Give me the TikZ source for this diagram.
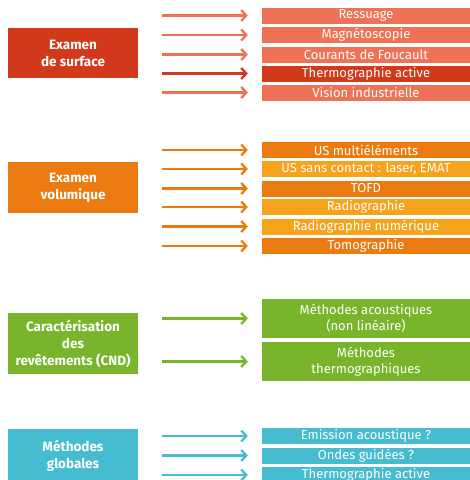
\documentclass[tikz,border=0pt]{standalone}
\usepackage{fontspec}
\setmainfont{Fira Sans}
\usetikzlibrary{arrows.meta}
\definecolor{surfdark}{HTML}{D2391A}
\definecolor{surflight}{HTML}{EE7255}
\definecolor{voldark}{HTML}{EB7B10}
\definecolor{vollight}{HTML}{F6A21B}
\definecolor{green}{HTML}{78B52A}
\definecolor{blue}{HTML}{45BCD0}
\begin{document}
\begin{tikzpicture}[x=1pt,y=-1pt,
  lbox/.style={inner sep=0pt, minimum width=130pt, text=white, align=center,
    font=\fontsize{13.5}{17}\selectfont\bfseries},
  rbox/.style={inner sep=0pt, minimum width=208pt, text=white, align=center,
    font=\fontsize{13}{16}\selectfont},
  arr/.style={line width=2.3pt, -{Straight Barb[length=5pt,width=11pt,line width=2.3pt]},
    shorten <=24pt, shorten >=14pt}]
\useasboundingbox (0,0) rectangle (470,480);
% --- surface
\node[lbox, fill=surfdark, minimum height=50pt] (S) at (73,53) {Examen\\de surface};
\node[rbox, fill=surflight, minimum height=16pt] (s1) at (366,15.5) {Ressuage};
\node[rbox, fill=surflight, minimum height=16pt] (s2) at (366,35) {Magnétoscopie};
\node[rbox, fill=surflight, minimum height=16pt] (s3) at (366,54.5) {Courants de Foucault};
\node[rbox, fill=surfdark, minimum height=16pt] (s4) at (366,73.5) {Thermographie active};
\node[rbox, fill=surflight, minimum height=16pt] (s5) at (366,92.5) {Vision industrielle};
\foreach \n in {s1,s2,s3,s5} \draw[arr, surflight] (S.east |- \n) -- (\n.west);
\draw[arr, surfdark] (S.east |- s4) -- (s4.west);
% --- volumique
\node[lbox, fill=voldark, minimum height=51pt] (V) at (73,187.5) {Examen\\volumique};
\node[rbox, fill=voldark, minimum height=16pt] (v1) at (366,150) {US multiéléments};
\node[rbox, fill=vollight, minimum height=16pt] (v2) at (366,169) {US sans contact : laser, EMAT};
\node[rbox, fill=voldark, minimum height=16pt] (v3) at (366,188.5) {TOFD};
\node[rbox, fill=vollight, minimum height=16pt] (v4) at (366,207) {Radiographie};
\node[rbox, fill=vollight, minimum height=16pt] (v5) at (366,226.5) {Radiographie numérique};
\node[rbox, fill=voldark, minimum height=16pt] (v6) at (366,246) {Tomographie};
\foreach \n in {v1,v2,v3,v4,v5,v6} \draw[arr, voldark] (V.east |- \n) -- (\n.west);
% --- revetements
\node[lbox, fill=green, minimum height=61pt] (C) at (73,343.5) {Caractérisation\\des\\revêtements (CND)};
\node[rbox, fill=green, minimum height=39pt] (c1) at (366,318.5) {Méthodes acoustiques\\(non linéaire)};
\node[rbox, fill=green, minimum height=39pt] (c2) at (366,361.5) {Méthodes\\thermographiques};
\foreach \n in {c1,c2} \draw[arr, green] (C.east |- \n) -- (\n.west);
% --- globales
\node[lbox, fill=blue, minimum height=54pt] (G) at (73,456) {Méthodes\\globales};
\node[rbox, fill=blue, minimum height=16pt] (g1) at (366,436) {Emission acoustique ?};
\node[rbox, fill=blue, minimum height=16pt] (g2) at (366,455.5) {Ondes guidées ?};
\node[rbox, fill=blue, minimum height=16pt] (g3) at (366,475) {Thermographie active};
\foreach \n in {g1,g2,g3} \draw[arr, blue] (G.east |- \n) -- (\n.west);
\end{tikzpicture}
\end{document}
